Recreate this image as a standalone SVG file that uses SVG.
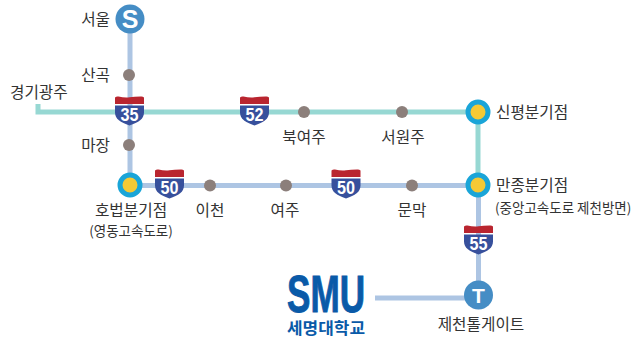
<svg xmlns="http://www.w3.org/2000/svg" width="634" height="340" viewBox="0 0 634 340">
<style>
text{font-family:"Noto Sans CJK KR","Noto Sans",sans-serif;font-size:15.700px;fill:#333}
.s{font-size:13.500px}
.m{text-anchor:middle}
.e{text-anchor:end}
.teal{stroke:#97d8d3;stroke-width:5;fill:none}
.blue{stroke:#adc5e3;stroke-width:5;fill:none}
.dot{fill:#8c7f7b}
.jo{fill:#f5c935;stroke:#1aa5d8;stroke-width:5}
.term{fill:#458dc5}
.tl{font-family:"Liberation Sans",sans-serif;font-weight:bold;font-size:21px;fill:#fff;text-anchor:middle}
.num{font-family:"Liberation Sans",sans-serif;font-weight:bold;font-size:18px;fill:#fff;text-anchor:middle}
</style>
<defs>
<g id="shield">
<path d="M-14.500,-13 Q-13,-14.500 -11,-14 Q-5,-12.500 0,-13.200 Q5,-14 11,-14 Q13,-14.500 14.500,-13 L14.500,-6.500 L-14.500,-6.500 Z" fill="#b9252f"/>
<path d="M-14.500,-5 L14.500,-5 L14.500,2 C14.500,8.500 9,12 0,15 C-9,12 -14.500,8.500 -14.500,2 Z" fill="#37509c"/>
</g>
</defs>
<g id="connectors">
<path class="blue" d="M130,19 V185.500 H478.500 V295"/>
<path class="blue" d="M375,298 H478"/>
<path class="teal" d="M38,104 V112 H478 V185"/>
</g>
<g id="seoul"><circle class="term" cx="130" cy="19" r="14.500"/><text class="tl" x="130" y="28" style="font-size:25px">S</text><text class="e" x="110" y="25">서울</text></g>
<g id="sangok"><circle class="dot" cx="129" cy="75" r="6"/><text class="e" x="110" y="81">산곡</text></g>
<g id="majang"><circle class="dot" cx="129" cy="145" r="6"/><text class="e" x="110" y="151">마장</text></g>
<g id="gwangju"><text x="10" y="98">경기광주</text></g>
<g id="bukyeoju"><circle class="dot" cx="304" cy="112" r="6"/><text class="m" x="304" y="143">북여주</text></g>
<g id="seowonju"><circle class="dot" cx="402" cy="112" r="6"/><text class="m" x="403" y="143">서원주</text></g>
<g id="sinpyeong"><circle class="jo" cx="478" cy="112" r="10"/><text x="496" y="118">신평분기점</text></g>
<g id="manjong"><circle class="jo" cx="478" cy="185" r="10"/><text x="496" y="191">만종분기점</text><text class="s" x="495" y="213">(중앙고속도로 제천방면)</text></g>
<g id="hobeop"><circle class="jo" cx="130" cy="185" r="10"/><text class="m" x="131" y="215.500">호법분기점</text><text class="s m" x="131" y="236">(영동고속도로)</text></g>
<g id="icheon"><circle class="dot" cx="210" cy="185.500" r="6"/><text class="m" x="210" y="216">이천</text></g>
<g id="yeoju"><circle class="dot" cx="286" cy="185.500" r="6"/><text class="m" x="285" y="216">여주</text></g>
<g id="munmak"><circle class="dot" cx="412" cy="185.500" r="6"/><text class="m" x="412" y="216">문막</text></g>
<g id="tollgate"><circle class="term" cx="478.500" cy="295" r="14.500"/><text class="tl" x="478.500" y="302.500">T</text><text class="m" x="481" y="330">제천톨게이트</text></g>
<g id="s35"><use href="#shield" x="129.500" y="110.500"/><text class="num" x="129.500" y="120.500" textLength="18" lengthAdjust="spacingAndGlyphs">35</text></g>
<g id="s52"><use href="#shield" x="254.500" y="110.500"/><text class="num" x="254.500" y="120.500" textLength="18" lengthAdjust="spacingAndGlyphs">52</text></g>
<g id="s50a"><use href="#shield" x="169.500" y="183.500"/><text class="num" x="169.500" y="193.500" textLength="18" lengthAdjust="spacingAndGlyphs">50</text></g>
<g id="s50b"><use href="#shield" x="346" y="183.500"/><text class="num" x="346" y="193.500" textLength="18" lengthAdjust="spacingAndGlyphs">50</text></g>
<g id="s55"><use href="#shield" x="478.500" y="239.500"/><text class="num" x="478.500" y="249.500" textLength="18" lengthAdjust="spacingAndGlyphs">55</text></g>
<g id="smu"><text x="287" y="312" textLength="78" lengthAdjust="spacingAndGlyphs" style="font-family:'Liberation Sans',sans-serif;font-weight:bold;font-size:52px;fill:#0a5aa8;stroke:#0a5aa8;stroke-width:1">SMU</text><text x="287" y="334" textLength="78" lengthAdjust="spacingAndGlyphs" style="font-weight:bold;font-size:16px;fill:#0a5aa8">세명대학교</text></g>
</svg>
